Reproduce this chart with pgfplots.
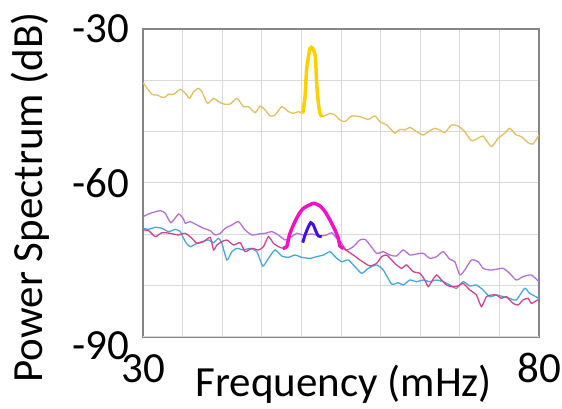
\documentclass[border=0pt]{standalone}
\usepackage{fontspec}
\setmainfont{Carlito}
\usepackage{pgfplots}
\pgfplotsset{compat=1.18}

\definecolor{tan}{HTML}{E3BE5E}
\definecolor{gold}{HTML}{FFD000}
\definecolor{orchidl}{HTML}{B46ED8}
\definecolor{skyb}{HTML}{45A8D8}
\definecolor{rosel}{HTML}{D2428E}
\definecolor{magen}{HTML}{F510C8}
\definecolor{bviolet}{HTML}{4010E0}
\definecolor{gridc}{HTML}{D9D9D9}
\definecolor{framec}{HTML}{858585}

\begin{document}
\begin{tikzpicture}
\begin{axis}[
  name=ax,
  scale only axis,
  width=396bp, height=308bp,
  xmin=30, xmax=80, ymin=-90, ymax=-30,
  xtick={30,35,...,80},
  xticklabels={30,,,,,,,,,,80},
  ytick={-90,-80,...,-30},
  yticklabels={,,,-60,,,-30},
  extra y ticks={-90},
  extra y tick labels={-90},
  extra y tick style={yticklabel style={yshift=-9bp}},
  major tick length=0pt,
  grid=major,
  grid style={gridc, line width=1pt},
  axis line style={framec, line width=1.5pt},
  tick label style={font=\fontsize{43bp}{46bp}\selectfont, inner sep=0pt},
  yticklabel style={anchor=east, xshift=-14bp},
  xticklabel style={anchor=base, yshift=-46bp},
  xlabel={Frequency (mHz)},
  ylabel={Power Spectrum (dB)},
  label style={font=\fontsize{43bp}{46bp}\selectfont, inner sep=0pt},
  xlabel style={at={(axis description cs:0.507,0)}, anchor=base, yshift=-60bp},
  ylabel style={at={(axis description cs:-0.255,0.453)}, anchor=base},
  every axis plot/.append style={smooth, tension=0.35},
]
% tan (thin) series
\addplot[tan, line width=1.3pt] coordinates {
(30,-40.45)(31.13,-42.73)(31.76,-42.86)(32.61,-43.38)(33.24,-42.73)(33.87,-42.73)
(34.71,-41.75)(35.34,-42.53)(35.88,-43.51)(36.39,-42.21)(37.02,-41.56)(37.44,-42.21)
(38.15,-44.48)(38.91,-43.51)(39.54,-44.16)(40.17,-44.61)(41.01,-44.61)(41.85,-43.51)
(42.69,-45.13)(43.32,-45.13)(44.16,-46.30)(44.79,-45.0)(45.42,-45.78)(46.05,-46.95)
(46.68,-46.75)(47.52,-45.13)(48.36,-46.10)(48.99,-46.43)(49.62,-46.10)(50.17,-46.43)};
\addplot[tan, line width=1.3pt] coordinates {
(52.61,-47.08)(53.19,-46.75)(53.61,-46.43)(54.24,-46.75)(54.87,-47.73)(55.50,-48.05)
(56.34,-46.95)(57.39,-47.08)(58.45,-47.60)(59.29,-46.95)(59.92,-48.05)(60.76,-48.70)
(61.39,-49.68)(61.81,-50.32)(62.44,-49.55)(63.07,-49.68)(63.70,-49.16)(64.54,-50.0)
(65.38,-50.65)(66.22,-49.81)(66.85,-49.35)(67.48,-49.68)(68.11,-50.19)(68.95,-48.70)
(69.79,-48.90)(70.63,-50.0)(71.47,-51.75)(72.31,-51.30)(72.94,-50.84)(73.99,-52.92)
(74.83,-51.30)(75.67,-50.32)(76.30,-49.35)(77.14,-50.65)(77.77,-50.97)(78.61,-52.14)
(79.24,-52.40)(80,-50.65)};
% gold peak
\addplot[gold, line width=3.5pt] coordinates {
(50.17,-46.43)(50.46,-43.18)(50.67,-37.66)(51.09,-33.77)(51.43,-33.77)(51.76,-35.39)
(51.93,-40.58)(52.14,-44.48)(52.35,-46.43)(52.61,-47.08)};
% orchid (thin)
\addplot[orchidl, line width=1.3pt] coordinates {
(30,-66.56)(30.92,-65.91)(32.18,-65.39)(32.82,-65.91)(33.53,-67.73)(34.50,-66.04)
(35.13,-67.08)(35.34,-67.86)(35.97,-67.53)(36.81,-68.18)(37.65,-68.83)(38.49,-69.29)
(39.12,-70.13)(39.75,-69.81)(40.38,-68.83)(41.22,-68.18)(42.06,-67.53)(42.90,-69.16)
(43.74,-70.13)(44.58,-69.94)(45.42,-69.81)(46.26,-69.48)(47.10,-70.13)(47.94,-71.10)
(48.78,-70.45)(49.41,-69.81)(50.25,-70.13)(51.30,-69.94)(52.35,-70.32)(53.19,-70.13)
(53.82,-69.68)(54.45,-70.78)(55.08,-71.75)(55.71,-73.05)(56.55,-72.40)(57.39,-71.10)
(58.03,-70.97)(58.66,-72.08)(59.50,-73.70)(60.34,-73.38)(61.18,-74.03)(62.02,-74.22)
(62.86,-73.05)(63.70,-74.03)(64.54,-73.83)(65.38,-73.70)(66.22,-74.68)(67.06,-74.35)
(67.90,-73.38)(68.74,-74.87)(69.37,-75.32)(70.0,-77.92)(70.63,-76.95)(71.47,-74.99)
(72.31,-75.32)(72.94,-76.62)(73.78,-76.95)(74.62,-76.82)(75.46,-76.62)(76.30,-77.60)
(77.14,-78.90)(77.98,-78.25)(79.03,-77.92)(80,-79.22)};
% sky blue (thin)
\addplot[skyb, line width=1.3pt] coordinates {
(30,-68.83)(30.71,-69.03)(31.55,-68.64)(32.39,-68.83)(33.24,-69.48)(34.08,-69.03)
(34.71,-69.48)(35.34,-71.43)(35.97,-72.40)(36.81,-71.75)(37.44,-71.43)(38.28,-71.10)
(38.91,-71.62)(39.54,-70.78)(39.96,-71.75)(40.59,-75.0)(41.22,-73.38)(41.85,-72.73)
(42.69,-73.05)(43.53,-72.73)(44.37,-73.38)(45.13,-76.17)(45.84,-74.68)(46.68,-73.05)
(47.52,-74.22)(48.36,-74.48)(49.20,-74.03)(50.04,-74.48)(51.09,-74.68)(51.93,-74.35)
(52.77,-74.03)(53.61,-73.38)(54.24,-74.35)(55.08,-75.32)(55.92,-74.99)(56.76,-76.30)
(57.61,-77.60)(58.45,-76.62)(59.50,-75.97)(60.34,-76.95)(61.39,-79.68)(62.23,-79.42)
(62.86,-79.87)(63.70,-78.90)(64.54,-79.22)(65.38,-78.90)(66.22,-79.22)(67.06,-78.90)
(67.90,-79.22)(68.74,-79.87)(69.58,-80.52)(70.42,-79.22)(71.26,-80.06)(72.10,-79.87)
(72.94,-80.84)(73.78,-82.14)(74.62,-81.82)(75.46,-82.14)(76.30,-82.47)(77.14,-82.79)
(78.19,-80.52)(78.82,-81.49)(80,-82.47)};
% rose (thin)
\addplot[rosel, line width=1.3pt] coordinates {
(30,-69.16)(30.71,-69.29)(31.55,-70.45)(32.39,-69.68)(33.45,-69.81)(34.50,-70.13)
(35.34,-69.81)(36.18,-70.78)(36.81,-71.75)(37.65,-71.43)(38.49,-70.58)(38.91,-73.05)
(39.33,-72.08)(39.96,-71.43)(40.59,-71.10)(41.43,-72.08)(42.27,-71.62)(42.90,-73.38)
(43.74,-72.73)(44.58,-73.05)(45.21,-72.40)(45.84,-70.45)(46.47,-71.75)(47.10,-72.40)
(47.65,-72.73)};
\addplot[rosel, line width=1.3pt] coordinates {
(55.29,-72.73)(55.92,-73.38)(56.55,-74.03)(57.39,-75.0)(58.03,-75.65)(58.66,-76.17)
(59.50,-75.65)(60.13,-74.35)(60.76,-74.03)(61.39,-75.0)(62.02,-75.97)(62.65,-76.62)
(63.28,-75.97)(64.12,-77.27)(64.96,-77.60)(65.59,-78.90)(66.01,-80.19)(66.43,-79.22)
(67.06,-77.92)(67.69,-78.90)(68.32,-79.87)(68.95,-80.19)(69.79,-80.06)(70.42,-79.55)
(71.26,-80.84)(72.10,-81.82)(72.73,-84.09)(73.36,-82.14)(73.99,-81.82)(74.62,-81.82)
(75.25,-82.47)(75.88,-82.14)(76.72,-83.44)(77.35,-83.77)(77.98,-82.79)(78.61,-82.47)
(79.03,-83.44)(79.45,-83.12)(80,-82.66)};
% magenta peak
\addplot[magen, line width=3.5pt] coordinates {
(47.65,-72.73)(48.15,-72.40)(48.49,-70.13)(48.99,-68.18)(49.62,-66.23)(50.25,-64.94)
(51.51,-63.96)(52.35,-64.48)(52.98,-65.58)(53.61,-67.21)(54.24,-69.16)(54.66,-70.78)
(54.87,-72.27)(55.29,-72.73)};
% blue-violet peak
\addplot[bviolet, line width=3pt] coordinates {
(50.17,-71.62)(50.46,-70.13)(50.88,-68.51)(51.18,-67.73)(51.51,-68.18)(51.85,-69.48)
(52.14,-70.32)(52.56,-70.45)};
\end{axis}
\pgfresetboundingbox
\path (ax.south west) ++(-143bp,-72bp) coordinate (bl);
\path (ax.north east) ++(23bp,29bp) coordinate (tr);
\path[use as bounding box] (bl) rectangle (tr);
\end{tikzpicture}
\end{document}
